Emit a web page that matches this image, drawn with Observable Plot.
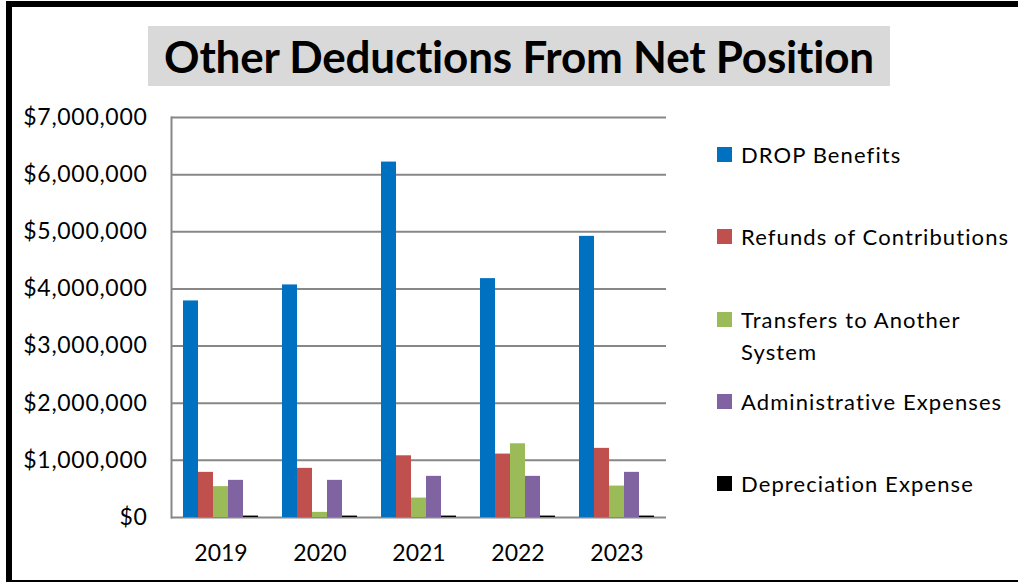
<!DOCTYPE html>
<html>
<head>
<meta charset="utf-8">
<script src="https://cdn.jsdelivr.net/npm/d3@7"></script>
<script src="https://cdn.jsdelivr.net/npm/@observablehq/plot@0.6"></script>
<style>
  html, body { margin: 0; padding: 0; background: #fff; }
  body { width: 1018px; height: 582px; position: relative; overflow: hidden; font-family: Lato, "Open Sans", sans-serif; }
  #border { position: absolute; left: 6px; top: 1px; width: 1040px; height: 573px; border: 6px solid #000; box-sizing: content-box; }
  #title { position: absolute; left: 148px; top: 26px; width: 742px; height: 60px; background: #d9d9d9;
           font-weight: 700; font-size: 44px; line-height: 60px; text-align: center; color: #000; letter-spacing: -0.2px; }
  #chart { position: absolute; left: 0; top: 0; }
  #chart g[aria-label="y-axis tick label"] text { letter-spacing: 0.7px; }
  #legend { position: absolute; left: 717px; top: 0; font-size: 22px; letter-spacing: 1.1px; color: #000; }
  .item { position: absolute; left: 0; width: 300px; }
  .sw { position: absolute; left: 0; top: 8px; width: 15px; height: 15px; }
  .lab { position: absolute; left: 24px; top: 0; line-height: 32px; white-space: nowrap; }
</style>
</head>
<body>
<div id="border"></div>
<div id="chart"></div>
<div id="title">Other Deductions From Net Position</div>
<div id="legend"></div>
<script>
const years = ["2019", "2020", "2021", "2022", "2023"];
const seriesNames = ["DROP Benefits", "Refunds of Contributions", "Transfers to Another System", "Administrative Expenses", "Depreciation Expense"];
const dropBenefits = [3790000, 4070000, 6220000, 4180000, 4920000];
const refunds = [790000, 860000, 1080000, 1110000, 1210000];
const transfers = [540000, 90000, 340000, 1290000, 550000];
const adminExpenses = [650000, 650000, 720000, 720000, 790000];
const depreciation = [25000, 25000, 25000, 25000, 25000];
const colors = ["#0070c0", "#c0504d", "#9bbb59", "#8064a2", "#000000"];
const yTicks = [0, 1000000, 2000000, 3000000, 4000000, 5000000, 6000000, 7000000];

const seriesValues = [dropBenefits, refunds, transfers, adminExpenses, depreciation];
const rows = [];
years.forEach((yr, i) => {
  seriesNames.forEach((s, j) => rows.push({year: yr, series: s, value: seriesValues[j][i]}));
});

const fmt = d3.format(",");
const chart = Plot.plot({
  width: 1018,
  height: 582,
  marginLeft: 171,
  marginRight: 352,
  marginTop: 117,
  marginBottom: 65,
  style: { fontFamily: "Lato, 'Open Sans', sans-serif", fontSize: "23px", color: "#000", background: "transparent" },
  fx: { domain: years, padding: 0, label: null, tickSize: 0, tickPadding: 27, axis: "bottom" },
  x: { domain: seriesNames, axis: null, paddingInner: 0, paddingOuter: 0.75 },
  y: { domain: [0, 7000000], ticks: yTicks, tickFormat: d => "$" + fmt(d), label: null, tickSize: 0, tickPadding: 24 },
  color: { domain: seriesNames, range: colors },
  marks: [
    Plot.ruleY(yTicks, { stroke: "#878787", strokeWidth: 2 }),
    Plot.frame({ anchor: "left", facetAnchor: "left", stroke: "#878787", strokeWidth: 2 }),
    Plot.barY(rows, { fx: "year", x: "series", y: "value", fill: "series" })
  ]
});
document.getElementById("chart").appendChild(chart);

const legend = document.getElementById("legend");
const legendTops = [139, 221, 304, 386, 468];
seriesNames.forEach((s, j) => {
  const item = document.createElement("div");
  item.className = "item";
  item.style.top = legendTops[j] + "px";
  const sw = document.createElement("div");
  sw.className = "sw";
  sw.style.background = colors[j];
  const lab = document.createElement("div");
  lab.className = "lab";
  lab.innerHTML = s === "Transfers to Another System" ? "Transfers to Another<br>System" : s;
  item.appendChild(sw);
  item.appendChild(lab);
  legend.appendChild(item);
});
</script>
</body>
</html>
